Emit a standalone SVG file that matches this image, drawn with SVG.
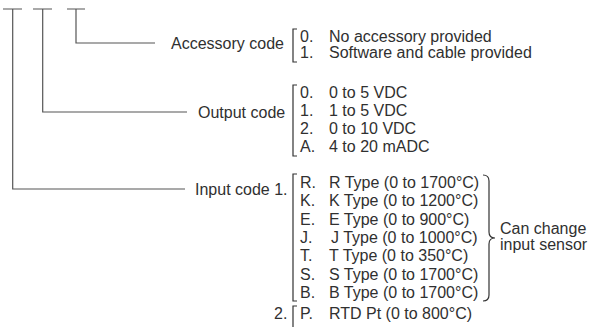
<svg xmlns="http://www.w3.org/2000/svg" width="595" height="327" viewBox="0 0 595 327">
<style>
.ln{stroke:#555;stroke-width:1.2;fill:none}
.br{stroke:#333;stroke-width:1.2;fill:none}
text{font-family:"Liberation Sans",Arial,sans-serif;font-size:16px;fill:#303030}
</style>
<rect width="595" height="327" fill="#fff"/>
<g id="connectors">
<path class="ln" d="M3,9H22M33,9H52M67,9H85"/>
<path class="ln" d="M76,9V43H155"/>
<path class="ln" d="M42.7,9V112H187"/>
<path class="ln" d="M12.7,9V189H185"/>
</g>
<g id="accessory">
<text x="171" y="49">Accessory code</text>
<path class="br" d="M297,29H293V62H297"/>
<text x="300" y="41.5">0.</text><text x="329" y="41.5">No accessory provided</text>
<text x="300" y="58">1.</text><text x="329" y="58">Software and cable provided</text>
</g>
<g id="output">
<text x="198" y="118">Output code</text>
<path class="br" d="M297,85H293V156H297"/>
<text x="300" y="98">0.</text><text x="329" y="98">0 to 5 VDC</text>
<text x="300" y="116">1.</text><text x="329" y="116">1 to 5 VDC</text>
<text x="300" y="134">2.</text><text x="329" y="134">0 to 10 VDC</text>
<text x="300" y="152">A.</text><text x="329" y="152">4 to 20 mADC</text>
</g>
<g id="input">
<text x="195" y="195">Input code 1.</text>
<path class="br" d="M297,174H293V301H297"/>
<text x="300" y="188">R.</text><text x="329" y="188">R Type (0 to 1700°C)</text>
<text x="300" y="206.3">K.</text><text x="329" y="206.3">K Type (0 to 1200°C)</text>
<text x="300" y="224.6">E.</text><text x="329" y="224.6">E Type (0 to 900°C)</text>
<text x="300" y="243">J.</text><text x="331" y="243">J Type (0 to 1000°C)</text>
<text x="300" y="261.2">T.</text><text x="329" y="261.2">T Type (0 to 350°C)</text>
<text x="300" y="279.5">S.</text><text x="329" y="279.5">S Type (0 to 1700°C)</text>
<text x="300" y="297.8">B.</text><text x="329" y="297.8">B Type (0 to 1700°C)</text>
<path class="br" d="M483,175Q489,175 489,181V232Q489,238 495,238Q489,238 489,244V295Q489,301 483,301"/>
<text x="500" y="234">Can change</text>
<text x="500" y="250">input sensor</text>
</g>
<g id="input2">
<text x="274" y="319">2.</text>
<path class="br" d="M297,306H293V330"/>
<text x="300" y="319">P.</text><text x="329" y="319">RTD Pt (0 to 800°C)</text>
</g>
</svg>
